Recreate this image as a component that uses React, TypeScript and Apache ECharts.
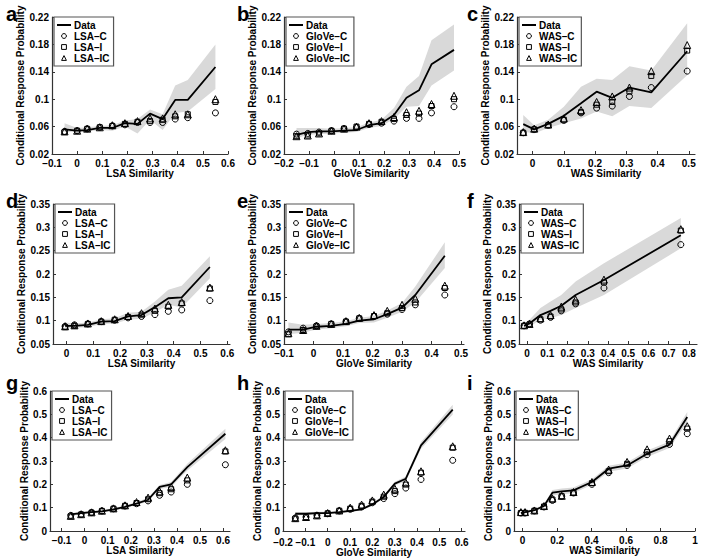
import React, { useEffect, useRef } from 'react';
import * as echarts from 'echarts';

const FONT = '"Liberation Sans", Arial, Helvetica, sans-serif';

// ---------- Panel a (LSA, study 1) ----------
const aX = [-0.05, 0, 0.04, 0.09, 0.14, 0.19, 0.24, 0.29, 0.34, 0.39, 0.44, 0.55];
const aData = [0.056, 0.054, 0.055, 0.058, 0.058, 0.065, 0.064, 0.079, 0.071, 0.099, 0.099, 0.147];
const aHi = [0.065, 0.058, 0.059, 0.061, 0.062, 0.069, 0.071, 0.085, 0.078, 0.12, 0.128, 0.18];
const aLo = [0.052, 0.052, 0.053, 0.055, 0.054, 0.06, 0.05, 0.07, 0.055, 0.08, 0.082, 0.115];
const aC = [0.053, 0.054, 0.0567, 0.059, 0.061, 0.0626, 0.066, 0.066, 0.066, 0.071, 0.073, 0.08];
const aI = [0.052, 0.054, 0.0567, 0.059, 0.061, 0.064, 0.067, 0.068, 0.07, 0.075, 0.078, 0.096];
const aIC = [0.053, 0.054, 0.057, 0.059, 0.062, 0.065, 0.068, 0.072, 0.072, 0.078, 0.078, 0.1];

// ---------- Panel b (GloVe, study 1) ----------
const bX = [-0.15, -0.105, -0.06, -0.01, 0.04, 0.09, 0.14, 0.19, 0.24, 0.29, 0.34, 0.39, 0.48];
const bData = [0.048, 0.052, 0.053, 0.053, 0.054, 0.055, 0.062, 0.065, 0.077, 0.102, 0.113, 0.151, 0.172];
const bHi = [0.058, 0.058, 0.058, 0.057, 0.058, 0.059, 0.066, 0.07, 0.087, 0.118, 0.134, 0.186, 0.209];
const bLo = [0.043, 0.048, 0.049, 0.05, 0.051, 0.052, 0.058, 0.061, 0.071, 0.089, 0.09, 0.12, 0.142];
const bC = [0.049, 0.05, 0.052, 0.054, 0.057, 0.059, 0.063, 0.065, 0.068, 0.072, 0.072, 0.08, 0.089];
const bI = [0.046, 0.047, 0.05, 0.054, 0.057, 0.06, 0.064, 0.067, 0.071, 0.077, 0.079, 0.09, 0.1];
const bIC = [0.046, 0.047, 0.05, 0.054, 0.057, 0.06, 0.065, 0.068, 0.074, 0.081, 0.083, 0.093, 0.105];

// ---------- Panel c (WAS, study 1) ----------
const cX = [-0.03, 0.005, 0.05, 0.1, 0.155, 0.205, 0.255, 0.31, 0.38, 0.495];
const cData = [0.0636, 0.056, 0.064, 0.0757, 0.094, 0.111, 0.102, 0.117, 0.11, 0.17];
const cHi = [0.077, 0.062, 0.07, 0.089, 0.118, 0.13, 0.128, 0.148, 0.142, 0.211];
const cLo = [0.053, 0.05, 0.058, 0.065, 0.072, 0.082, 0.075, 0.09, 0.087, 0.135];
const cC = [0.051, 0.056, 0.062, 0.069, 0.08, 0.087, 0.09, 0.104, 0.117, 0.141];
const cI = [0.051, 0.056, 0.062, 0.07, 0.081, 0.092, 0.096, 0.111, 0.134, 0.171];
const cIC = [0.052, 0.057, 0.063, 0.072, 0.084, 0.096, 0.104, 0.117, 0.141, 0.179];

// ---------- Panel d (LSA, study 2) ----------
const dX = [-0.005, 0.03, 0.08, 0.13, 0.18, 0.23, 0.28, 0.33, 0.38, 0.43, 0.535];
const dData = [0.089, 0.089, 0.091, 0.098, 0.099, 0.109, 0.112, 0.129, 0.148, 0.15, 0.215];
const dHi = [0.096, 0.094, 0.096, 0.103, 0.105, 0.117, 0.119, 0.141, 0.166, 0.175, 0.238];
const dLo = [0.084, 0.085, 0.086, 0.093, 0.094, 0.102, 0.104, 0.118, 0.134, 0.128, 0.191];
const dC = [0.088, 0.091, 0.093, 0.098, 0.101, 0.106, 0.109, 0.113, 0.12, 0.123, 0.143];
const dI = [0.086, 0.089, 0.093, 0.098, 0.102, 0.108, 0.113, 0.121, 0.13, 0.137, 0.169];
const dIC = [0.088, 0.09, 0.094, 0.099, 0.103, 0.11, 0.116, 0.126, 0.134, 0.14, 0.171];

// ---------- Panel e (GloVe, study 2) ----------
const eX = [-0.085, -0.035, 0.01, 0.06, 0.11, 0.155, 0.205, 0.25, 0.3, 0.345, 0.445];
const eData = [0.081, 0.081, 0.087, 0.089, 0.093, 0.1, 0.103, 0.114, 0.128, 0.155, 0.239];
const eHi = [0.096, 0.091, 0.093, 0.095, 0.099, 0.106, 0.11, 0.122, 0.138, 0.173, 0.268];
const eLo = [0.071, 0.074, 0.081, 0.084, 0.088, 0.095, 0.096, 0.106, 0.119, 0.139, 0.213];
const eC = [0.076, 0.084, 0.089, 0.093, 0.098, 0.105, 0.109, 0.114, 0.124, 0.134, 0.155];
const eI = [0.071, 0.08, 0.088, 0.093, 0.098, 0.105, 0.11, 0.116, 0.127, 0.139, 0.17];
const eIC = [0.073, 0.08, 0.089, 0.093, 0.099, 0.106, 0.112, 0.121, 0.134, 0.147, 0.175];

// ---------- Panel f (WAS, study 2) ----------
const fX = [-0.015, 0.012, 0.066, 0.116, 0.169, 0.24, 0.38, 0.76];
const fData = [0.089, 0.094, 0.112, 0.121, 0.132, 0.155, 0.187, 0.283];
const fHi = [0.094, 0.102, 0.127, 0.141, 0.155, 0.184, 0.223, 0.32];
const fLo = [0.084, 0.087, 0.102, 0.105, 0.112, 0.127, 0.155, 0.255];
const fC = [0.089, 0.093, 0.101, 0.107, 0.121, 0.136, 0.17, 0.263];
const fI = [0.089, 0.092, 0.103, 0.109, 0.124, 0.139, 0.182, 0.293];
const fIC = [0.09, 0.093, 0.105, 0.112, 0.13, 0.145, 0.188, 0.296];

// ---------- Panel g (LSA, study 3) ----------
const gX = [-0.06, -0.015, 0.03, 0.075, 0.125, 0.175, 0.225, 0.275, 0.325, 0.375, 0.445, 0.61];
const gData = [0.071, 0.077, 0.081, 0.084, 0.093, 0.103, 0.117, 0.134, 0.189, 0.2, 0.274, 0.417];
const gHi = [0.077, 0.082, 0.086, 0.089, 0.098, 0.109, 0.124, 0.142, 0.197, 0.21, 0.288, 0.438];
const gLo = [0.066, 0.072, 0.076, 0.079, 0.088, 0.097, 0.111, 0.126, 0.18, 0.19, 0.259, 0.394];
const gC = [0.067, 0.071, 0.079, 0.086, 0.095, 0.107, 0.117, 0.129, 0.153, 0.167, 0.2, 0.284];
const gI = [0.063, 0.071, 0.079, 0.086, 0.096, 0.108, 0.12, 0.136, 0.162, 0.179, 0.217, 0.341];
const gIC = [0.065, 0.072, 0.08, 0.087, 0.097, 0.11, 0.124, 0.143, 0.17, 0.189, 0.229, 0.346];

// ---------- Panel h (GloVe, study 3) ----------
const hX = [-0.145, -0.097, -0.048, 0, 0.052, 0.101, 0.152, 0.2, 0.251, 0.301, 0.35, 0.418, 0.56];
const hData = [0.074, 0.074, 0.077, 0.077, 0.081, 0.086, 0.093, 0.114, 0.146, 0.203, 0.224, 0.367, 0.52];
const hHi = [0.08, 0.08, 0.082, 0.082, 0.086, 0.091, 0.098, 0.12, 0.153, 0.211, 0.234, 0.381, 0.541];
const hLo = [0.068, 0.068, 0.072, 0.072, 0.076, 0.081, 0.088, 0.108, 0.139, 0.195, 0.214, 0.353, 0.499];
const hC = [0.056, 0.06, 0.067, 0.074, 0.086, 0.093, 0.103, 0.121, 0.139, 0.16, 0.184, 0.221, 0.303];
const hI = [0.053, 0.059, 0.066, 0.076, 0.087, 0.096, 0.108, 0.126, 0.147, 0.171, 0.199, 0.25, 0.357];
const hIC = [0.055, 0.06, 0.067, 0.077, 0.088, 0.1, 0.113, 0.131, 0.156, 0.181, 0.207, 0.256, 0.363];

// ---------- Panel i (WAS, study 3) ----------
const iX = [-0.01, 0.014, 0.068, 0.124, 0.173, 0.227, 0.295, 0.402, 0.499, 0.606, 0.722, 0.852, 0.955];
const iData = [0.077, 0.081, 0.089, 0.107, 0.164, 0.17, 0.174, 0.21, 0.267, 0.281, 0.331, 0.37, 0.489];
const iHi = [0.083, 0.087, 0.095, 0.114, 0.176, 0.182, 0.186, 0.222, 0.28, 0.294, 0.345, 0.384, 0.51];
const iLo = [0.071, 0.075, 0.083, 0.1, 0.152, 0.158, 0.162, 0.198, 0.254, 0.268, 0.317, 0.356, 0.466];
const iC = [0.077, 0.077, 0.086, 0.103, 0.131, 0.149, 0.163, 0.2, 0.25, 0.281, 0.327, 0.371, 0.417];
const iI = [0.077, 0.078, 0.087, 0.105, 0.135, 0.149, 0.165, 0.205, 0.256, 0.288, 0.338, 0.385, 0.439];
const iIC = [0.081, 0.081, 0.088, 0.107, 0.139, 0.151, 0.167, 0.21, 0.263, 0.296, 0.35, 0.396, 0.449];

// ---------- Tick labels ----------
const yTicksRow1 = [0.02, 0.06, 0.1, 0.14, 0.18, 0.22];
const yTicksRow2 = [0.05, 0.1, 0.15, 0.2, 0.25, 0.3, 0.35];
const yTicksRow3 = [0, 0.1, 0.2, 0.3, 0.4, 0.5, 0.6];
const xTicksA = [-0.1, 0, 0.1, 0.2, 0.3, 0.4, 0.5, 0.6];
const xTicksB = [-0.2, -0.1, 0, 0.1, 0.2, 0.3, 0.4, 0.5];
const xTicksC = [0, 0.1, 0.2, 0.3, 0.4, 0.5];
const xTicksD = [0, 0.1, 0.2, 0.3, 0.4, 0.5, 0.6];
const xTicksE = [-0.1, 0, 0.1, 0.2, 0.3, 0.4, 0.5];
const xTicksF = [0, 0.1, 0.2, 0.3, 0.4, 0.5, 0.6, 0.7, 0.8];
const xTicksG = [-0.1, 0, 0.1, 0.2, 0.3, 0.4, 0.5, 0.6];
const xTicksH = [-0.2, -0.1, 0, 0.1, 0.2, 0.3, 0.4, 0.5, 0.6];
const xTicksI = [0, 0.2, 0.4, 0.6, 0.8, 1];

const Y_NAME = 'Conditional Response Probability';

const panels = [
  { letter: 'a', model: 'LSA', x: aX, data: aData, hi: aHi, lo: aLo, c: aC, i: aI, ic: aIC, xMin: -0.1, xMax: 0.6, xTicks: xTicksA, yMin: 0.02, yMax: 0.22, yTicks: yTicksRow1, left: 52, top: 17, width: 176, height: 137, lx: 6, ly: 4, xm: 4 },
  { letter: 'b', model: 'GloVe', x: bX, data: bData, hi: bHi, lo: bLo, c: bC, i: bI, ic: bIC, xMin: -0.2, xMax: 0.5, xTicks: xTicksB, yMin: 0.02, yMax: 0.22, yTicks: yTicksRow1, left: 284, top: 17, width: 175, height: 137, lx: 237, ly: 4, xm: 4 },
  { letter: 'c', model: 'WAS', x: cX, data: cData, hi: cHi, lo: cLo, c: cC, i: cI, ic: cIC, xMin: -0.05, xMax: 0.52, xTicks: xTicksC, yMin: 0.02, yMax: 0.22, yTicks: yTicksRow1, left: 517, top: 17, width: 178, height: 137, lx: 467, ly: 4, xm: 4 },
  { letter: 'd', model: 'LSA', x: dX, data: dData, hi: dHi, lo: dLo, c: dC, i: dI, ic: dIC, xMin: -0.05, xMax: 0.61, xTicks: xTicksD, yMin: 0.05, yMax: 0.35, yTicks: yTicksRow2, left: 53, top: 204, width: 177, height: 140, lx: 6, ly: 191, xm: 4 },
  { letter: 'e', model: 'GloVe', x: eX, data: eData, hi: eHi, lo: eLo, c: eC, i: eI, ic: eIC, xMin: -0.1, xMax: 0.51, xTicks: xTicksE, yMin: 0.05, yMax: 0.35, yTicks: yTicksRow2, left: 284, top: 204, width: 180, height: 140, lx: 237, ly: 191, xm: 4 },
  { letter: 'f', model: 'WAS', x: fX, data: fData, hi: fHi, lo: fLo, c: fC, i: fI, ic: fIC, xMin: -0.04, xMax: 0.84, xTicks: xTicksF, yMin: 0.05, yMax: 0.35, yTicks: yTicksRow2, left: 519, top: 204, width: 178, height: 140, lx: 467, ly: 191, xm: 4 },
  { letter: 'g', model: 'LSA', x: gX, data: gData, hi: gHi, lo: gLo, c: gC, i: gI, ic: gIC, xMin: -0.15, xMax: 0.63, xTicks: xTicksG, yMin: 0, yMax: 0.6, yTicks: yTicksRow3, left: 50, top: 391, width: 180, height: 140, lx: 6, ly: 373, xm: 4 },
  { letter: 'h', model: 'GloVe', x: hX, data: hData, hi: hHi, lo: hLo, c: hC, i: hI, ic: hIC, xMin: -0.2, xMax: 0.615, xTicks: xTicksH, yMin: 0, yMax: 0.6, yTicks: yTicksRow3, left: 283, top: 391, width: 182, height: 140, lx: 237, ly: 373, xm: 6 },
  { letter: 'i', model: 'WAS', x: iX, data: iData, hi: iHi, lo: iLo, c: iC, i: iI, ic: iIC, xMin: -0.05, xMax: 1, xTicks: xTicksI, yMin: 0, yMax: 0.6, yTicks: yTicksRow3, left: 514, top: 391, width: 181, height: 140, lx: 467, ly: 373, xm: 4 },
];

const fmt = (v: number) => String(Math.round(v * 1000) / 1000).replace('-', '\u2212');

const axisText = { fontFamily: FONT, fontWeight: 'bold' as const, fontSize: 10, color: '#000' };

function buildOption() {
  const grid: any[] = [];
  const xAxis: any[] = [];
  const yAxis: any[] = [];
  const series: any[] = [];
  const legend: any[] = [];
  const graphic: any[] = [];

  panels.forEach((p, k) => {
    grid.push({ left: p.left, top: p.top, width: p.width, height: p.height });
    xAxis.push({
      type: 'value', gridIndex: k, min: p.xMin, max: p.xMax,
      name: `${p.model} Similarity`, nameLocation: 'middle', nameGap: 14,
      nameTextStyle: { ...axisText },
      axisLine: { show: true, onZero: false, lineStyle: { color: '#333', width: 1.2 } },
      axisTick: { show: true, inside: true, length: 3, customValues: p.xTicks, lineStyle: { color: '#333' } },
      axisLabel: { customValues: p.xTicks, formatter: fmt, margin: p.xm, ...axisText },
      splitLine: { show: false },
    });
    yAxis.push({
      type: 'value', gridIndex: k, min: p.yMin, max: p.yMax,
      name: Y_NAME, nameLocation: 'middle', nameGap: 21,
      nameTextStyle: { ...axisText },
      axisLine: { show: true, onZero: false, lineStyle: { color: '#333', width: 1.2 } },
      axisTick: { show: true, inside: true, length: 3, customValues: p.yTicks, lineStyle: { color: '#333' } },
      axisLabel: { customValues: p.yTicks, formatter: fmt, margin: 3, ...axisText },
      splitLine: { show: false },
    });

    const band = { x: p.x, hi: p.hi, lo: p.lo };
    series.push({
      type: 'custom', xAxisIndex: k, yAxisIndex: k, z: 1, silent: true,
      data: [[p.x[0], p.lo[0]]],
      renderItem: (_params: any, api: any) => {
        const pts: number[][] = [];
        for (let j = 0; j < band.x.length; j++) pts.push(api.coord([band.x[j], band.hi[j]]));
        for (let j = band.x.length - 1; j >= 0; j--) pts.push(api.coord([band.x[j], band.lo[j]]));
        return { type: 'polygon', shape: { points: pts }, style: { fill: '#d9d9d9', stroke: 'none' } };
      },
    });
    series.push({
      type: 'line', name: 'Data', xAxisIndex: k, yAxisIndex: k, z: 3,
      data: p.x.map((v, j) => [v, p.data[j]]),
      symbol: 'none', showSymbol: false,
      lineStyle: { color: '#000', width: 1.8 },
      itemStyle: { color: '#000', opacity: 0 },
    });
    const mk = [
      { name: `${p.model}\u2013C`, vals: p.c, symbol: 'circle', size: 6 },
      { name: `${p.model}\u2013I`, vals: p.i, symbol: 'rect', size: 5 },
      { name: `${p.model}\u2013IC`, vals: p.ic, symbol: 'triangle', size: 7 },
    ];
    mk.forEach((m) => {
      series.push({
        type: 'line', name: m.name, xAxisIndex: k, yAxisIndex: k, z: 4,
        data: p.x.map((v, j) => [v, m.vals[j]]),
        symbol: m.symbol, symbolSize: m.size, showSymbol: true, showAllSymbol: true,
        lineStyle: { width: 0, opacity: 0 },
        itemStyle: { color: 'rgba(0,0,0,0)', borderColor: '#000', borderWidth: 1 },
      });
    });
    legend.push({
      data: ['Data', ...mk.map((m) => m.name)],
      orient: 'vertical', left: p.left + 2, top: p.top,
      itemWidth: 14, itemHeight: 6, itemGap: 1,
      padding: [3, 4, 3, 2],
      borderColor: '#555', borderWidth: 1.2, backgroundColor: '#fff',
      selectedMode: false,
      itemStyle: { borderWidth: 1 },
      textStyle: { ...axisText, padding: [0, 0, 0, -2] },
    });
    graphic.push({
      type: 'text', left: p.lx, top: p.ly,
      style: { text: p.letter, font: `bold 20px ${FONT}`, fill: '#000' },
    });
  });

  return { animation: false, backgroundColor: '#fff', grid, xAxis, yAxis, series, legend, graphic };
}

export default function App() {
  const ref = useRef<HTMLDivElement>(null);
  useEffect(() => {
    if (!ref.current) return;
    const chart = echarts.init(ref.current, undefined, { renderer: 'svg' });
    chart.setOption(buildOption() as any);
    return () => chart.dispose();
  }, []);
  return <div ref={ref} style={{ position: 'absolute', left: 0, top: 0, width: 704, height: 560 }} />;
}
